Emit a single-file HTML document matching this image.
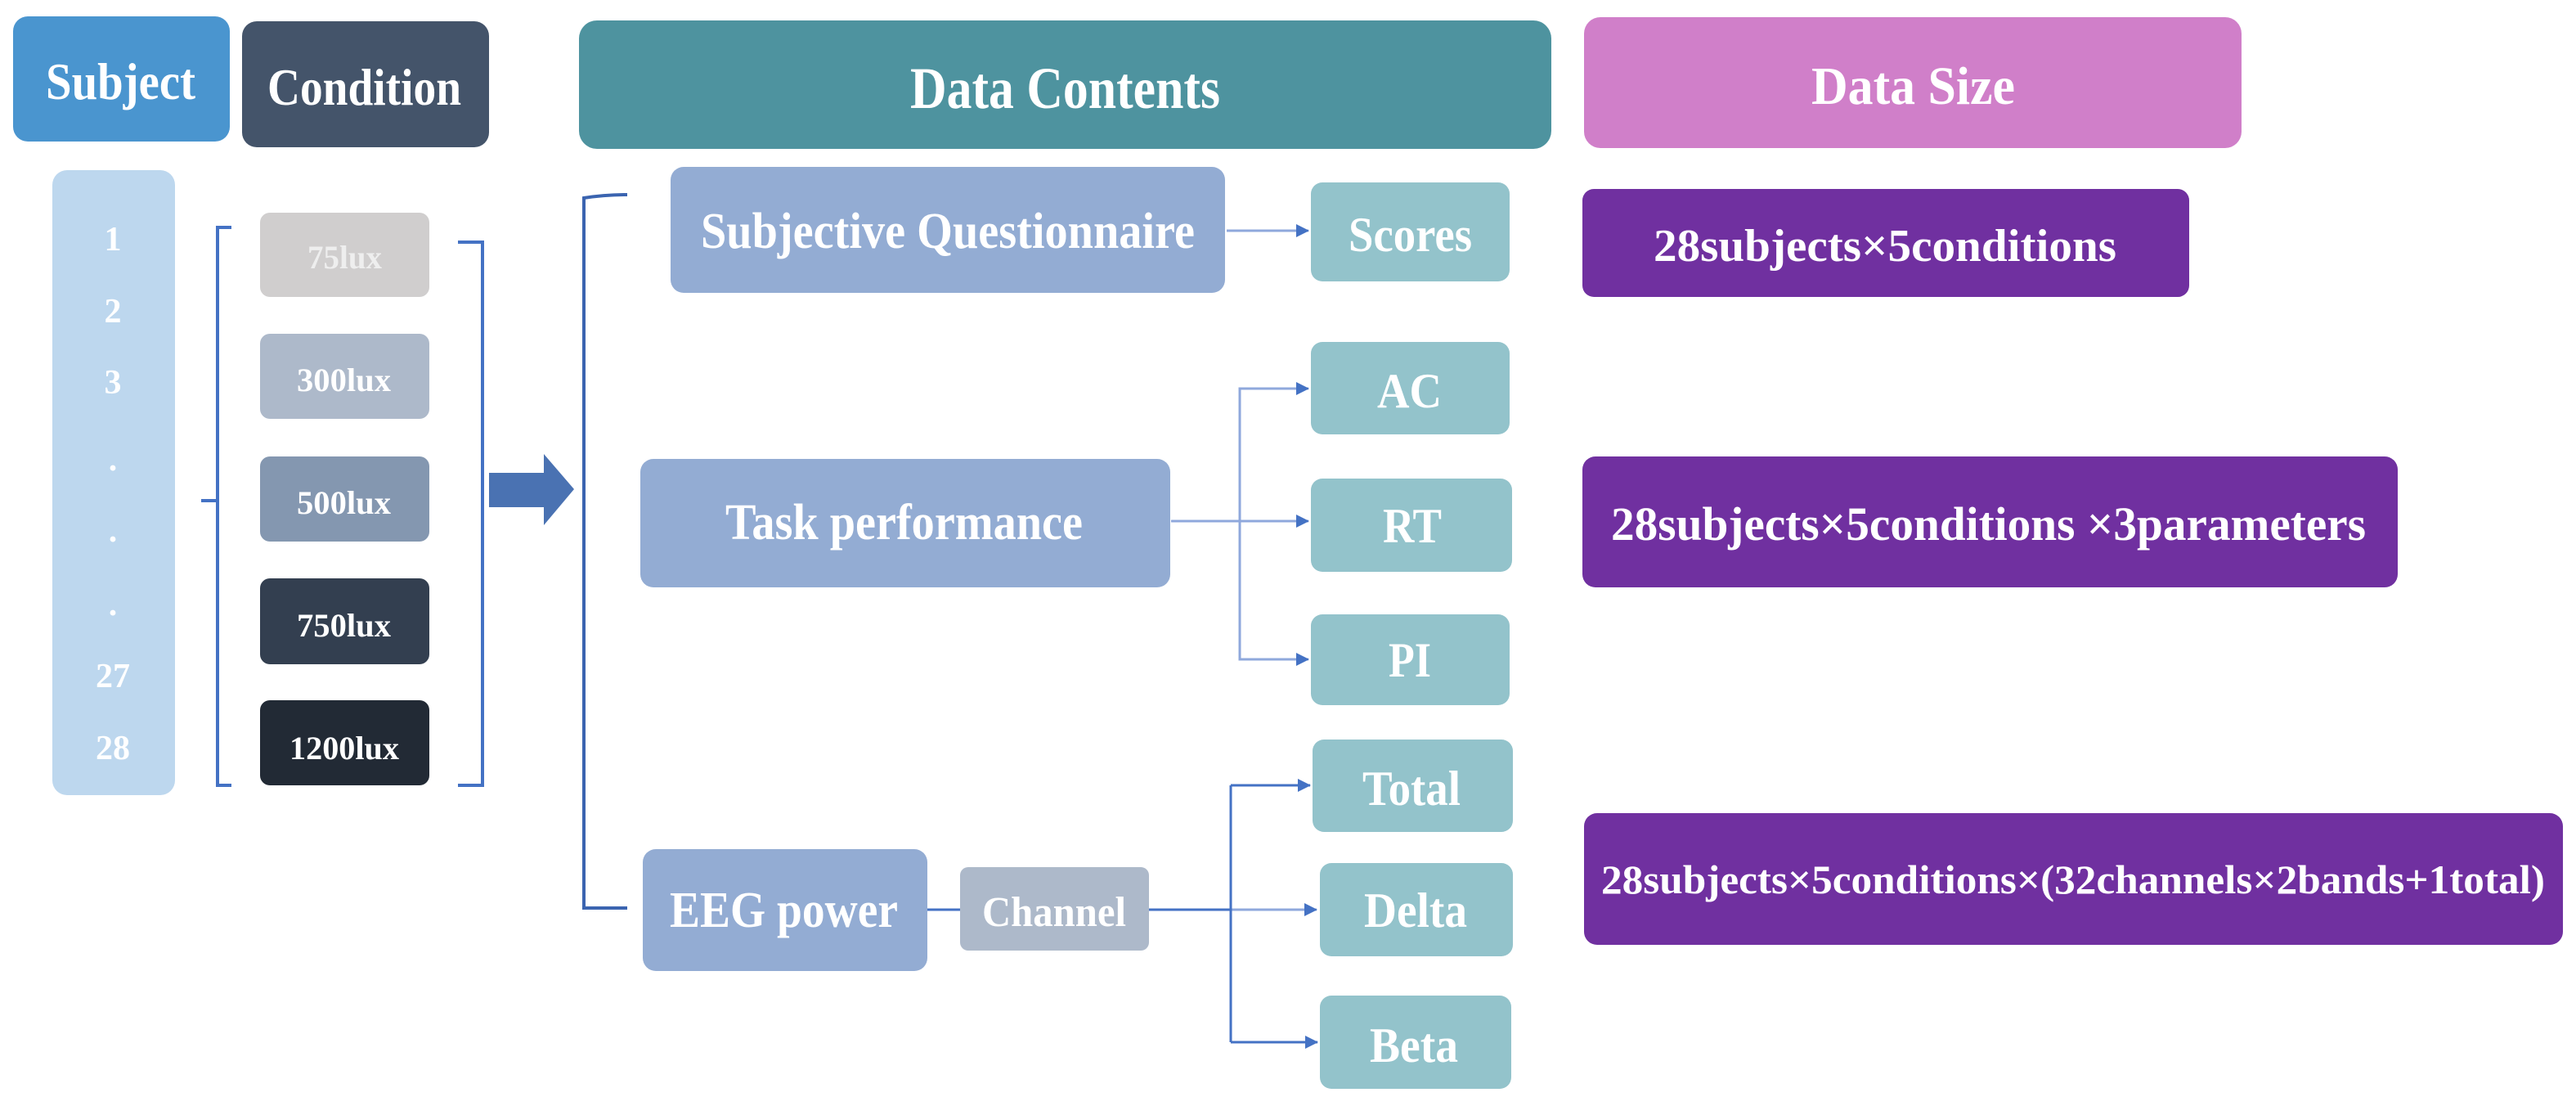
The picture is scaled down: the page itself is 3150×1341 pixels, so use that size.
<!DOCTYPE html>
<html><head><meta charset="utf-8"><style>html,body{margin:0;padding:0;background:#fff}svg{display:block}</style></head><body>
<svg width="3150" height="1341" viewBox="0 0 3150 1341" xmlns="http://www.w3.org/2000/svg" font-family="'Liberation Serif', serif" font-weight="bold">
<defs><marker id="ah" markerWidth="8" markerHeight="8" refX="7" refY="4" orient="auto" markerUnits="userSpaceOnUse" viewBox="0 0 8 8"><path d="M0,0 L8,4 L0,8 z" fill="#4472c4"/></marker>
<marker id="a2" markerWidth="16" markerHeight="16" refX="15" refY="8" orient="auto" markerUnits="userSpaceOnUse"><path d="M0,0 L16,8 L0,16 z" fill="#4472c4"/></marker></defs>
<!-- headers -->
<rect x="16" y="20" width="265" height="153" rx="18" fill="#4a95cf"/>
<text x="56" y="121" font-size="64" fill="#fff" textLength="183" lengthAdjust="spacingAndGlyphs">Subject</text>
<rect x="296" y="26" width="302" height="154" rx="18" fill="#44546a"/>
<text x="327" y="128" font-size="64" fill="#fff" textLength="237" lengthAdjust="spacingAndGlyphs">Condition</text>
<rect x="708" y="25" width="1189" height="157" rx="22" fill="#4e939f"/>
<text x="1113" y="132" font-size="72" fill="#fff" textLength="379" lengthAdjust="spacingAndGlyphs">Data Contents</text>
<rect x="1937" y="21" width="804" height="160" rx="20" fill="#d07fc9"/>
<text x="2215" y="127" font-size="66" fill="#fff" textLength="249" lengthAdjust="spacingAndGlyphs">Data Size</text>
<!-- subject column -->
<rect x="64" y="208" width="150" height="764" rx="18" fill="#bdd7ee"/>
<g font-size="42" fill="#fff" text-anchor="middle">
<text x="138" y="306">1</text><text x="138" y="394">2</text><text x="138" y="481">3</text>
<text x="138" y="575">.</text><text x="138" y="662">.</text><text x="138" y="752">.</text>
<text x="138" y="840">27</text><text x="138" y="928">28</text></g>
<!-- brackets -->
<path d="M283,278 H266 V960 H283 M266,612 H246" fill="none" stroke="#4472c4" stroke-width="4"/>
<path d="M560,296 H590 V960 H560" fill="none" stroke="#4472c4" stroke-width="4"/>
<!-- condition boxes -->
<rect x="318" y="260" width="207" height="103" rx="12" fill="#d0cece"/>
<text x="376" y="328" font-size="40" fill="#eeeeee" textLength="91" lengthAdjust="spacingAndGlyphs">75lux</text>
<rect x="318" y="408" width="207" height="104" rx="12" fill="#adb9ca"/>
<text x="363" y="478" font-size="40" fill="#fff" textLength="115" lengthAdjust="spacingAndGlyphs">300lux</text>
<rect x="318" y="558" width="207" height="104" rx="12" fill="#8497b0"/>
<text x="363" y="628" font-size="40" fill="#fff" textLength="115" lengthAdjust="spacingAndGlyphs">500lux</text>
<rect x="318" y="707" width="207" height="105" rx="12" fill="#333f50"/>
<text x="363" y="778" font-size="40" fill="#fff" textLength="115" lengthAdjust="spacingAndGlyphs">750lux</text>
<rect x="318" y="856" width="207" height="104" rx="12" fill="#222a35"/>
<text x="354" y="928" font-size="40" fill="#fff" textLength="134" lengthAdjust="spacingAndGlyphs">1200lux</text>
<!-- big arrow -->
<path d="M598,578 H665 V555 L702,598 L665,642 V620 H598 Z" fill="#4a72b2"/>
<!-- big bracket -->
<path d="M767,238 Q740,238 714,242 V1110 H767" fill="none" stroke="#3b64b0" stroke-width="4"/>
<!-- content boxes -->
<rect x="820" y="204" width="678" height="154" rx="16" fill="#93acd3"/>
<text x="857" y="303" font-size="62" fill="#fff" textLength="604" lengthAdjust="spacingAndGlyphs">Subjective Questionnaire</text>
<rect x="783" y="561" width="648" height="157" rx="16" fill="#93acd3"/>
<text x="887" y="659" font-size="62" fill="#fff" textLength="437" lengthAdjust="spacingAndGlyphs">Task performance</text>
<rect x="786" y="1038" width="348" height="149" rx="16" fill="#93acd3"/>
<text x="819" y="1133" font-size="62" fill="#fff" textLength="279" lengthAdjust="spacingAndGlyphs">EEG power</text>
<rect x="1174" y="1060" width="231" height="102" rx="10" fill="#adb9ca"/>
<text x="1201" y="1132" font-size="52" fill="#fff" textLength="176" lengthAdjust="spacingAndGlyphs">Channel</text>
<!-- teal boxes -->
<g fill="#93c3cb">
<rect x="1603" y="223" width="243" height="121" rx="14"/>
<rect x="1603" y="418" width="243" height="113" rx="14"/>
<rect x="1603" y="585" width="246" height="114" rx="14"/>
<rect x="1603" y="751" width="243" height="111" rx="14"/>
<rect x="1605" y="904" width="245" height="113" rx="14"/>
<rect x="1614" y="1055" width="236" height="114" rx="14"/>
<rect x="1614" y="1217" width="234" height="114" rx="14"/>
</g>
<g fill="#fff" font-size="60">
<text x="1649" y="307" textLength="151" lengthAdjust="spacingAndGlyphs">Scores</text>
<text x="1684" y="498" textLength="79" lengthAdjust="spacingAndGlyphs">AC</text>
<text x="1691" y="663" textLength="72" lengthAdjust="spacingAndGlyphs">RT</text>
<text x="1698" y="827" textLength="52" lengthAdjust="spacingAndGlyphs">PI</text>
<text x="1666" y="984" textLength="120" lengthAdjust="spacingAndGlyphs">Total</text>
<text x="1668" y="1133" textLength="126" lengthAdjust="spacingAndGlyphs">Delta</text>
<text x="1675" y="1298" textLength="108" lengthAdjust="spacingAndGlyphs">Beta</text>
</g>
<!-- connectors -->
<g fill="none" stroke="#8fa8dc" stroke-width="3">
<path d="M1500,282 H1600" marker-end="url(#a2)"/>
<path d="M1600,475 H1516 V806 H1600" />
<path d="M1516,475 H1600" marker-end="url(#a2)"/>
<path d="M1516,806 H1600" marker-end="url(#a2)"/>
<path d="M1432,637 H1600" marker-end="url(#a2)"/>
</g>
<g fill="none" stroke="#4472c4" stroke-width="3">
<path d="M1134,1112 H1174 M1405,1112 H1505"/>
<path d="M1505,1112 H1610" stroke="#8fa8dc" marker-end="url(#a2)"/>
<path d="M1505,960 V1274"/>
<path d="M1505,960 H1602" marker-end="url(#a2)"/>
<path d="M1505,1274 H1611" marker-end="url(#a2)"/>
</g>
<!-- data size boxes -->
<rect x="1935" y="231" width="742" height="132" rx="14" fill="#7030a0"/>
<text x="2022" y="319" font-size="56" fill="#fff" textLength="566" lengthAdjust="spacingAndGlyphs">28subjects×5conditions</text>
<rect x="1935" y="558" width="997" height="160" rx="16" fill="#7030a0"/>
<text x="1970" y="660" font-size="58" fill="#fff" textLength="923" lengthAdjust="spacingAndGlyphs">28subjects×5conditions ×3parameters</text>
<rect x="1937" y="994" width="1197" height="161" rx="16" fill="#7030a0"/>
<text x="1958" y="1092" font-size="50" fill="#fff" textLength="1154" lengthAdjust="spacingAndGlyphs">28subjects×5conditions×(32channels×2bands+1total)</text>
</svg>
</body></html>
